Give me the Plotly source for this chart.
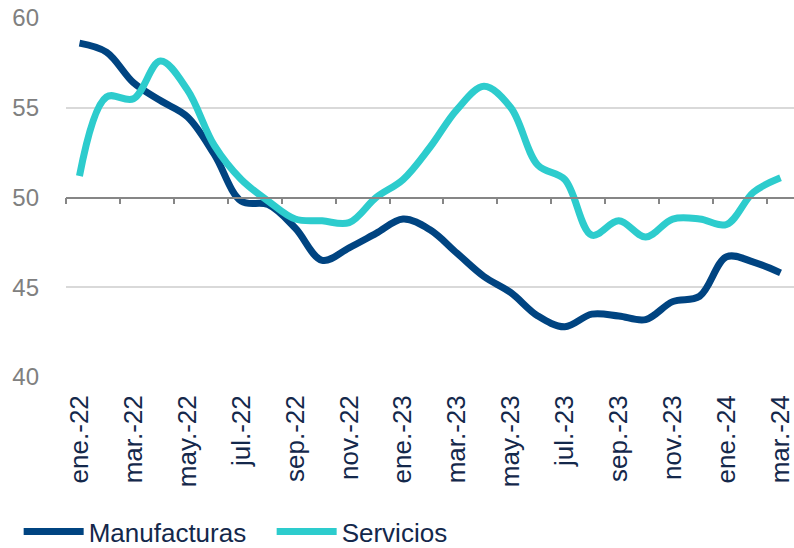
import plotly.graph_objects as go

months = ["ene.", "feb.", "mar.", "abr.", "may.", "jun.", "jul.", "ago.", "sep.", "oct.", "nov.", "dic."]
categories = [f"{m}-{y}" for y in ("22", "23") for m in months] + ["ene.-24", "feb.-24", "mar.-24"]

manufacturas = [58.6, 58.1, 56.4, 55.4, 54.5, 52.4, 49.8, 49.6, 48.3,
                46.5, 47.2, 48.0, 48.8, 48.2, 46.9, 45.6, 44.7, 43.4,
                42.8, 43.5, 43.4, 43.2, 44.2, 44.5, 46.7, 46.4, 45.8]
servicios = [51.2, 55.6, 55.5, 57.6, 56.0, 52.9, 51.0, 49.8, 48.8,
             48.7, 48.6, 50.0, 51.0, 52.8, 54.9, 56.2, 55.0, 51.8,
             51.0, 47.9, 48.7, 47.8, 48.8, 48.8, 48.5, 50.3, 51.1]

label_cats = categories[::2]
y_ticks = [40, 45, 50, 55, 60]

navy = "#004481"
aqua = "#2DCCCD"
text_navy = "#14284b"
idx = list(range(len(categories)))

fig = go.Figure()
fig.add_trace(go.Scatter(x=categories, y=manufacturas, name="Manufacturas", mode="lines",
                         line=dict(color=navy, width=7, shape="spline", smoothing=1)))
fig.add_trace(go.Scatter(x=categories, y=servicios, name="Servicios", mode="lines",
                         line=dict(color=aqua, width=7, shape="spline", smoothing=1)))
# invisible helper trace to carry the axis drawn at y=50
fig.add_trace(go.Scatter(x=idx, y=manufacturas, xaxis="x2", yaxis="y", mode="lines",
                         line=dict(width=0), opacity=0, showlegend=False, hoverinfo="skip"))

fig.update_layout(
    width=794, height=548,
    margin=dict(l=66, r=0, t=18, b=171),
    paper_bgcolor="white", plot_bgcolor="white",
    font=dict(family="Liberation Sans, Arial, sans-serif"),
    xaxis=dict(type="category", categoryorder="array", categoryarray=categories,
               range=[-0.5, len(categories) - 0.5],
               tickmode="array", tickvals=label_cats, ticktext=label_cats,
               tickangle=-90, tickfont=dict(size=26, color=text_navy),
               showgrid=False, showline=False, ticks="", zeroline=False,
               ticklabelstandoff=12),
    xaxis2=dict(overlaying="x", anchor="free", position=0.5, type="linear",
                range=[-0.5, len(categories) - 0.5],
                tickmode="array", tickvals=[i - 0.5 for i in idx[::2]],
                showticklabels=False, showgrid=False, zeroline=False,
                showline=True, linecolor="#868686", linewidth=1.5,
                ticks="outside", ticklen=6, tickwidth=1.5, tickcolor="#868686"),
    yaxis=dict(range=[40, 60], tickvals=y_ticks, showgrid=True, gridcolor="#d9d9d9",
               gridwidth=1.5, zeroline=False, showline=False, ticks="",
               tickfont=dict(size=24, color="#808080"), ticklabelstandoff=26),
    legend=dict(orientation="h", xref="container", yref="container", x=0.0235, y=0.03,
                xanchor="left", yanchor="middle", font=dict(size=26, color=text_navy),
                itemwidth=60, entrywidth=178, entrywidthmode="pixels",
                bgcolor="rgba(0,0,0,0)"),
    showlegend=True,
)

fig.write_html("out.html", config={"displayModeBar": False},
               post_script="document.body.style.margin='0px';")
